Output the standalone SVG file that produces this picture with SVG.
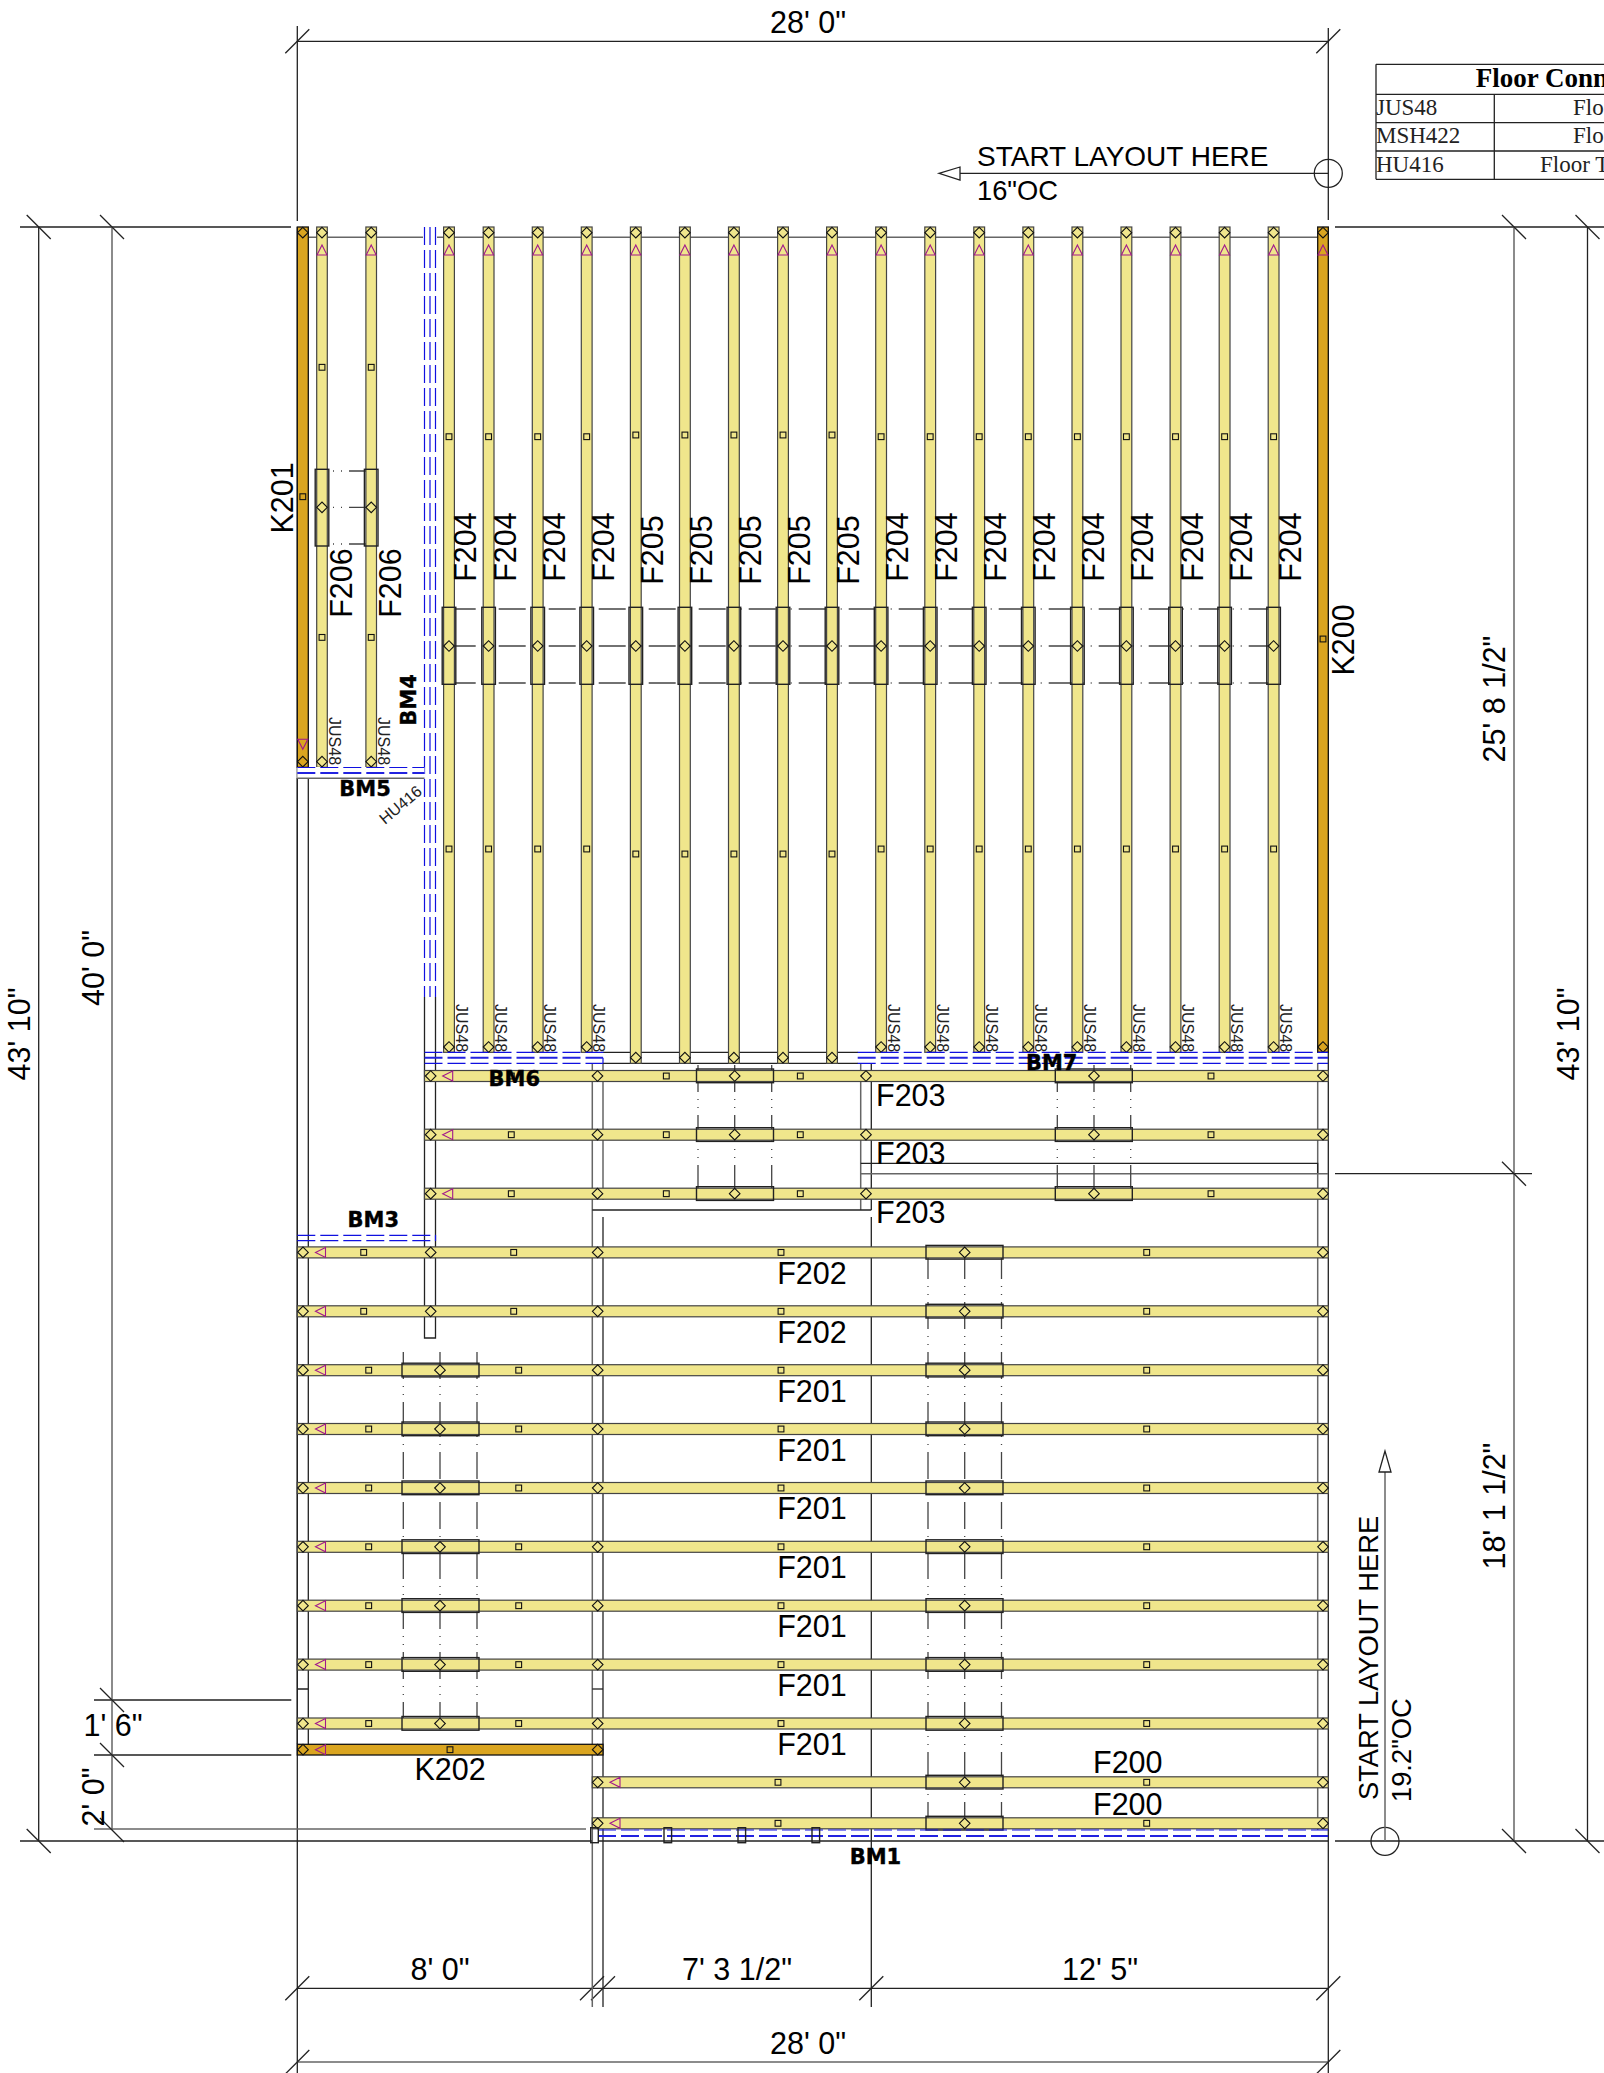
<svg xmlns="http://www.w3.org/2000/svg" width="1604" height="2073" viewBox="0 0 1604 2073">
<style>
text{font-family:"Liberation Sans",Arial,sans-serif;fill:#000}
.t{font-size:30.5px}.tm{font-size:30.5px;text-anchor:middle}
.st{font-size:27.6px}
.s{font-size:16px;fill:#222}
.bm{font-family:"DejaVu Sans",sans-serif;font-weight:bold;font-size:21px;text-anchor:middle;stroke:#000;stroke-width:.4}
.tb{font-family:"Liberation Serif",serif;font-size:23px;fill:#222}
.l{stroke:#222;stroke-width:1.3;fill:none}
.g{stroke:#666;stroke-width:1.5;fill:none}
.x{stroke:#444;stroke-width:1.3;fill:none;stroke-dasharray:27 7 1 7 1 7}
.j{fill:#f0e68c;stroke:#444;stroke-width:1.2}
.k{fill:#daa520;stroke:#111;stroke-width:1.3}
.b{fill:none;stroke:#222;stroke-width:1.4}
.m{fill:none;stroke:#111;stroke-width:1.1}
.p{fill:none;stroke:#a0188c;stroke-width:1.1}
.bl{stroke:#1010e0;stroke-width:1.2;fill:none;stroke-dasharray:18 5}
.bl2{stroke:#2222e0;stroke-width:1.9;fill:none;stroke-dasharray:18 5}
</style>
<defs>
<path id="d" class="m" d="M-5.3 0L0-5.3 5.3 0 0 5.3Z"/>
<rect id="q" class="m" x="-2.9" y="-2.9" width="5.8" height="5.8"/>
<path id="tu" class="p" d="M-5 5L0-5 5 5Z"/>
<path id="td" class="p" d="M-5-5L0 5 5-5Z"/>
<path id="tl" class="p" d="M5-5L-5 0 5 5Z"/>
<path id="ts" class="l" d="M-12 12L12-12"/>
<path id="tb" class="l" d="M-12-12L12 12"/>
<rect id="bv" class="b" x="-6.8" y="607.3" width="13.6" height="77"/>
<rect id="bh" class="b" x="-38.5" y="-7" width="77" height="13.7"/>
<g id="rv"><use href="#d" y="232.7"/><use href="#tu" y="250"/></g>
<g id="f204"><rect class="j" x="-5.4" y="227" width="10.8" height="825.3"/><use href="#rv"/><use href="#q" y="436.7"/><use href="#q" y="849"/><use href="#d" y="1047"/><use href="#bv"/><use href="#d" y="646"/></g>
<g id="f205"><rect class="j" x="-5.4" y="227" width="10.8" height="836.3"/><use href="#rv"/><use href="#q" y="435"/><use href="#q" y="854"/><use href="#d" y="1057.7"/><use href="#bv"/><use href="#d" y="646"/></g>
<g id="f203"><rect class="j" x="424.5" y="-5.5" width="903.8" height="11"/><use href="#d" x="430.7"/><use href="#tl" x="447.7"/><use href="#q" x="511.3"/><use href="#d" x="597.5"/><use href="#q" x="666.3"/><use href="#bh" x="735"/><use href="#d" x="734.7"/><use href="#q" x="800.3"/><use href="#d" x="866"/><use href="#bh" x="1093.8"/><use href="#d" x="1094"/><use href="#q" x="1211"/><use href="#d" x="1323"/></g>
<g id="f202"><rect class="j" x="297.3" y="-5.5" width="1031" height="11"/><use href="#d" x="303"/><use href="#tl" x="320.5"/><use href="#q" x="363.7"/><use href="#d" x="430.7"/><use href="#q" x="513.7"/><use href="#d" x="597.7"/><use href="#q" x="781"/><use href="#bh" x="964.5"/><use href="#d" x="964.7"/><use href="#q" x="1146.7"/><use href="#d" x="1323"/></g>
<g id="f201"><rect class="j" x="297.3" y="-5.5" width="1031" height="11"/><use href="#d" x="303"/><use href="#tl" x="320.5"/><use href="#q" x="368.7"/><use href="#bh" x="440.5"/><use href="#d" x="440"/><use href="#q" x="518.7"/><use href="#d" x="597.7"/><use href="#q" x="781"/><use href="#bh" x="964.5"/><use href="#d" x="964.7"/><use href="#q" x="1146.7"/><use href="#d" x="1323"/></g>
<g id="f200"><rect class="j" x="592.3" y="-5.5" width="736" height="11"/><use href="#d" x="597.7"/><use href="#tl" x="615"/><use href="#q" x="778"/><use href="#bh" x="964.5"/><use href="#d" x="964.7"/><use href="#q" x="1146.7"/><use href="#d" x="1323"/></g>
</defs>
<rect width="1604" height="2073" fill="#fff"/>

<g id="connectors">
<path class="l" d="M297.3 26V221M297.3 227V2073M1328.3 28V220M1328.3 227V2073M297.3 41.3H1328.3M297.3 1988.3H1328.3"/>
<path class="g" d="M297.3 2062H1328.3"/>
<path class="l" d="M20 227H291M1335 227H1604M1335 1841H1604M20 1841H592M94 1700H291.3M94 1755H291.3M1335 1173.7H1532"/>
<path class="g" d="M94 1829H586"/>
<path class="l" d="M38.7 227V1841M1587.5 227V1841"/>
<path class="g" d="M112 227V1830M1514 227V1841"/>
<use href="#ts" x="297.3" y="41.3"/><use href="#ts" x="1328.3" y="41.3"/>
<use href="#ts" x="297.3" y="1988.3"/><use href="#ts" x="592" y="1988.3"/><use href="#ts" x="603" y="1988.3"/><use href="#ts" x="871.3" y="1988.3"/><use href="#ts" x="1328.3" y="1988.3"/>
<use href="#ts" x="297.3" y="2062"/><use href="#ts" x="1328.3" y="2062"/>
<use href="#tb" x="38.7" y="227"/><use href="#tb" x="112" y="227"/><use href="#tb" x="112" y="1700"/><use href="#tb" x="112" y="1755"/><use href="#tb" x="112" y="1830"/><use href="#tb" x="38.7" y="1841"/>
<use href="#tb" x="1514" y="227"/><use href="#tb" x="1587.5" y="227"/><use href="#tb" x="1514" y="1173.7"/><use href="#tb" x="1514" y="1841"/><use href="#tb" x="1587.5" y="1841"/>
<circle class="l" cx="1328.3" cy="173.3" r="14"/><path class="l" d="M960 173.3H1328.3M939 173.3L960 167V180Z"/>
<circle class="l" cx="1385" cy="1841.3" r="14"/><path class="g" d="M1385 1472V1841"/><path class="l" d="M1385 1451L1379 1472H1391Z"/>
<path class="g" d="M308.3 237.3H1317.7"/>
<path class="l" d="M297.3 778V1744M308.3 778V1744M297.3 1689H308.3"/>
<path class="l" d="M424.5 778V1338H435.5V997"/>
<path class="g" d="M592.3 1063V2007M603 1063V1200"/>
<path class="l" d="M603 1217V2007"/>
<path class="l" d="M592.3 1689H603"/>
<path class="g" d="M860.7 1063V1210M1317.7 1063V1830"/>
<path class="l" d="M871.3 1063V1210M871.3 1217V2007"/>
<path class="l" d="M592.3 1210H871.3"/>
<path class="l" d="M860.7 1163.3H1317.7V1173.7"/>
<path class="g" d="M860.7 1173.7H1328"/>
<path class="l" d="M603 1052.3H858M603 1063.3H858"/>
<path class="x" stroke-dashoffset="23" d="M322 471H371M322 507.3H371M322 544H371"/>
<path class="x" d="M448.7 609H1280M448.7 646H1280M448.7 683H1280"/>
<path class="x" d="M698 1065V1193M734.7 1065V1193M771.7 1065V1193M1057.3 1065V1193M1094 1065V1193M1130.7 1065V1193"/>
<path class="x" d="M403.3 1352V1723M440 1352V1723M477 1352V1723"/>
<path class="x" d="M928 1252V1823M964.7 1252V1823M1001.5 1252V1823"/>
</g>

<g id="F206-1" transform="translate(322,0)"><rect class="j" x="-5.3" y="227" width="10.6" height="540.3"/><use href="#rv"/><use href="#q" y="367.3"/><use href="#q" y="637.4"/><rect class="b" x="-6.8" y="469.3" width="13.6" height="76.7"/><use href="#d" y="507.3"/><use href="#d" y="761.7"/></g>
<g id="F206-2" transform="translate(371.2,0)"><rect class="j" x="-5.3" y="227" width="10.6" height="540.3"/><use href="#rv"/><use href="#q" y="367.3"/><use href="#q" y="637.4"/><rect class="b" x="-6.8" y="469.3" width="13.6" height="76.7"/><use href="#d" y="507.3"/><use href="#d" y="761.7"/></g>
<g id="K201" transform="translate(302.8,0)"><rect class="k" x="-5.5" y="227" width="11" height="540.3"/><use href="#d" y="232.7"/><use href="#q" y="496.7"/><use href="#td" y="744.3"/><use href="#d" y="761.7"/></g>
<g id="K200" transform="translate(1323,0)"><rect class="k" x="-5.3" y="227" width="10.6" height="825.3"/><use href="#rv"/><use href="#q" y="639"/><use href="#d" y="1047"/></g>

<use id="J1" href="#f204" x="449"/><use id="J2" href="#f204" x="488.6"/><use id="J3" href="#f204" x="537.7"/><use id="J4" href="#f204" x="586.7"/>
<use id="J5" href="#f205" x="635.8"/><use id="J6" href="#f205" x="684.9"/><use id="J7" href="#f205" x="733.9"/><use id="J8" href="#f205" x="783"/><use id="J9" href="#f205" x="832"/>
<use id="J10" href="#f204" x="881.1"/><use id="J11" href="#f204" x="930.2"/><use id="J12" href="#f204" x="979.2"/><use id="J13" href="#f204" x="1028.3"/><use id="J14" href="#f204" x="1077.4"/><use id="J15" href="#f204" x="1126.4"/><use id="J16" href="#f204" x="1175.5"/><use id="J17" href="#f204" x="1224.6"/><use id="J18" href="#f204" x="1273.6"/>

<use id="R1" href="#f203" y="1076"/><use id="R2" href="#f203" y="1134.7"/><use id="R3" href="#f203" y="1193.7"/>
<use id="R4" href="#f202" y="1252.4"/><use id="R5" href="#f202" y="1311.3"/>
<use id="R6" href="#f201" y="1370.2"/><use id="R7" href="#f201" y="1429"/><use id="R8" href="#f201" y="1488"/><use id="R9" href="#f201" y="1546.8"/><use id="R10" href="#f201" y="1605.7"/><use id="R11" href="#f201" y="1664.6"/><use id="R12" href="#f201" y="1723.5"/>
<use id="R13" href="#f200" y="1782.3"/><use id="R14" href="#f200" y="1823.3"/>
<g id="K202"><rect class="k" x="297.3" y="1744.3" width="305.7" height="10.7"/><use href="#d" x="303" y="1749.7"/><use href="#tl" x="320.5" y="1749.7"/><use href="#q" x="450" y="1749.7"/><use href="#d" x="597.7" y="1749.7"/></g>

<g id="BM4"><rect x="423" y="227" width="14" height="770" fill="#fff"/><path class="bl" d="M424.5 227V997M430 227V997M435.5 227V997"/></g>
<g id="BM5"><rect x="297.3" y="767" width="127.2" height="11.3" fill="#fff"/><path class="bl" d="M297.3 767.5H424.5"/><path class="bl2" d="M297.3 773H424.5"/><path class="g" d="M297.3 778.3H424.5"/></g>
<g id="BM3"><path class="bl" d="M297.3 1235.3H435.5V1241M297.3 1240.7H435.5"/></g>
<g id="BM6"><path class="bl" d="M424.5 1052.3H603V1063.3M424.5 1063.3H603"/><path class="bl2" d="M424.5 1057.8H603"/></g>
<g id="BM7"><path class="bl" d="M857.7 1052.3H1328M857.7 1063.3H1328"/><path class="bl2" d="M857.7 1057.8H1328"/></g>
<g id="BM1"><path class="bl" d="M598 1830H1328"/><path class="bl2" d="M598 1836H1328"/><path class="l" d="M598 1841H1328"/>
<rect class="b" x="590.7" y="1827.7" width="7.6" height="15"/><rect class="b" x="664" y="1827.7" width="7.6" height="15"/><rect class="b" x="738" y="1827.7" width="7.6" height="15"/><rect class="b" x="812" y="1827.7" width="7.6" height="15"/></g>

<g id="table">
<path class="l" d="M1376 64.3H1604M1376 94.3H1604M1376 122.7H1604M1376 151H1604M1376 179.3H1604M1376 64.3V179.3M1494.3 94.3V179.3"/>
<text x="1475.7" y="87.3" style="font-family:'Liberation Serif',serif;font-weight:bold;font-size:27px">Floor Conn</text>
<text class="tb" x="1376" y="115">JUS48</text><text class="tb" x="1376" y="143">MSH422</text><text class="tb" x="1376" y="172">HU416</text>
<text class="tb" x="1573" y="115">Flo</text><text class="tb" x="1573" y="143">Flo</text><text class="tb" x="1540" y="172">Floor T</text>
</g>

<g id="dimension-labels">
<text class="tm" x="808" y="33">28' 0"</text>
<text class="tm" x="808" y="2054">28' 0"</text>
<text class="tm" x="440" y="1980">8' 0"</text>
<text class="tm" x="737" y="1980">7' 3 1/2"</text>
<text class="tm" x="1100" y="1980">12' 5"</text>
<text class="tm" x="113" y="1736">1' 6"</text>
<text class="tm" transform="translate(30,1034) rotate(-90)">43' 10"</text>
<text class="tm" transform="translate(104,968) rotate(-90)">40' 0"</text>
<text class="tm" transform="translate(104,1797) rotate(-90)">2' 0"</text>
<text class="tm" transform="translate(1505,699) rotate(-90)">25' 8 1/2"</text>
<text class="tm" transform="translate(1505,1506) rotate(-90)">18' 1 1/2"</text>
<text class="tm" transform="translate(1579,1034) rotate(-90)">43' 10"</text>
<text class="st" x="977" y="166" style="font-size:28px">START LAYOUT HERE</text>
<text class="st" x="977" y="200" style="font-size:27.3px">16"OC</text>
<text class="st" transform="translate(1378,1800) rotate(-90)" style="font-size:27.3px">START LAYOUT HERE</text>
<text class="st" transform="translate(1411,1802) rotate(-90)" style="font-size:27.3px">19.2"OC</text>
</g>

<g id="member-labels">
<text class="tm" transform="translate(293,498) rotate(-90)">K201</text>
<text class="tm" transform="translate(1354,640) rotate(-90)">K200</text>
<text class="tm" x="450" y="1780">K202</text>
<text class="tm" transform="translate(352,583) rotate(-90)">F206</text>
<text class="tm" transform="translate(401,583) rotate(-90)">F206</text>
<text class="tm" transform="translate(476,547) rotate(-90)">F204</text>
<text class="tm" transform="translate(515.6,547) rotate(-90)">F204</text>
<text class="tm" transform="translate(564.7,547) rotate(-90)">F204</text>
<text class="tm" transform="translate(613.7,547) rotate(-90)">F204</text>
<text class="tm" transform="translate(662.8,550) rotate(-90)">F205</text>
<text class="tm" transform="translate(711.9,550) rotate(-90)">F205</text>
<text class="tm" transform="translate(760.9,550) rotate(-90)">F205</text>
<text class="tm" transform="translate(810,550) rotate(-90)">F205</text>
<text class="tm" transform="translate(859,550) rotate(-90)">F205</text>
<text class="tm" transform="translate(908.1,547) rotate(-90)">F204</text>
<text class="tm" transform="translate(957.2,547) rotate(-90)">F204</text>
<text class="tm" transform="translate(1006.2,547) rotate(-90)">F204</text>
<text class="tm" transform="translate(1055.3,547) rotate(-90)">F204</text>
<text class="tm" transform="translate(1104.4,547) rotate(-90)">F204</text>
<text class="tm" transform="translate(1153.4,547) rotate(-90)">F204</text>
<text class="tm" transform="translate(1202.5,547) rotate(-90)">F204</text>
<text class="tm" transform="translate(1251.6,547) rotate(-90)">F204</text>
<text class="tm" transform="translate(1300.6,547) rotate(-90)">F204</text>
<text class="t" x="876" y="1105.7">F203</text><text class="t" x="876" y="1164.3">F203</text><text class="t" x="876" y="1222.7">F203</text>
<text class="tm" x="812" y="1284">F202</text><text class="tm" x="812" y="1343">F202</text>
<text class="tm" x="812" y="1402">F201</text><text class="tm" x="812" y="1461">F201</text><text class="tm" x="812" y="1519">F201</text><text class="tm" x="812" y="1578">F201</text><text class="tm" x="812" y="1637">F201</text><text class="tm" x="812" y="1696">F201</text><text class="tm" x="812" y="1755">F201</text>
<text class="t" x="1093" y="1773.3">F200</text><text class="t" x="1093" y="1815">F200</text>
<text class="bm" x="365" y="795.7">BM5</text>
<text class="bm" transform="translate(416,700) rotate(-90)">BM4</text>
<text class="bm" x="514.3" y="1086">BM6</text>
<text class="bm" x="373.3" y="1226.7">BM3</text>
<text class="bm" x="1051.7" y="1070">BM7</text>
<text class="bm" x="875.4" y="1864">BM1</text>
<text class="s" transform="translate(385,825) rotate(-40)">HU416</text>
<g id="hanger-labels">
<text class="s" transform="translate(328.5,717) rotate(90)">JUS48</text>
<text class="s" transform="translate(377.5,717) rotate(90)">JUS48</text>
<text class="s" transform="translate(455.5,1004) rotate(90)">JUS48</text>
<text class="s" transform="translate(495,1004) rotate(90)">JUS48</text>
<text class="s" transform="translate(544,1004) rotate(90)">JUS48</text>
<text class="s" transform="translate(593,1004) rotate(90)">JUS48</text>
<text class="s" transform="translate(887.5,1004) rotate(90)">JUS48</text>
<text class="s" transform="translate(936.6,1004) rotate(90)">JUS48</text>
<text class="s" transform="translate(985.6,1004) rotate(90)">JUS48</text>
<text class="s" transform="translate(1034.7,1004) rotate(90)">JUS48</text>
<text class="s" transform="translate(1083.8,1004) rotate(90)">JUS48</text>
<text class="s" transform="translate(1132.8,1004) rotate(90)">JUS48</text>
<text class="s" transform="translate(1181.9,1004) rotate(90)">JUS48</text>
<text class="s" transform="translate(1231,1004) rotate(90)">JUS48</text>
<text class="s" transform="translate(1280,1004) rotate(90)">JUS48</text>
</g>
</g>
</svg>
